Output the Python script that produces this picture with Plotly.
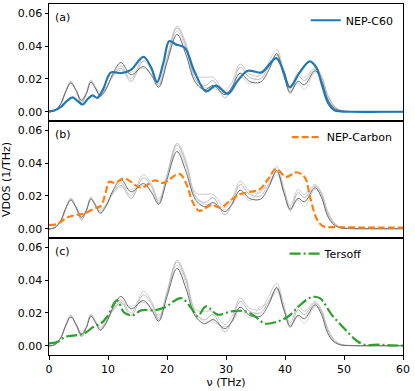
import plotly.graph_objects as go
from plotly.subplots import make_subplots

# ---------------- data ----------------
freq_ref = [0, 1, 2, 2.8, 3.7, 4.6, 5.5, 6.3, 7.1, 7.9, 8.7, 9.7, 10.8, 12.2, 13.9, 16.0,
            17.4, 18.6, 20.0, 21.7, 23.2, 24.8, 26.4, 27.8, 29.8, 31.0, 32.4, 34.0, 35.8,
            37.2, 38.6, 39.8, 40.9, 42.2, 43.3, 45.1, 46.2, 47.2, 48.3, 49.5, 51, 55, 60]

ref_dark = [0.0000, 0.0008, 0.0050, 0.0120, 0.0175, 0.0130, 0.0070, 0.0110, 0.0180, 0.0140,
            0.0095, 0.0140, 0.0230, 0.0300, 0.0225, 0.0275, 0.0220, 0.0150, 0.0300, 0.0470,
            0.0350, 0.0180, 0.0135, 0.0160, 0.0105, 0.0150, 0.0235, 0.0185, 0.0180, 0.0250,
            0.0355, 0.0220, 0.0120, 0.0185, 0.0165, 0.0250, 0.0190, 0.0080, 0.0025, 0.0006,
            0.0002, 0.0001, 0.0001]
ref_light1 = [0.0000, 0.0008, 0.0050, 0.0125, 0.0188, 0.0130, 0.0060, 0.0110, 0.0194, 0.0150,
              0.0110, 0.0150, 0.0220, 0.0280, 0.0200, 0.0330, 0.0270, 0.0170, 0.0330, 0.0520,
              0.0420, 0.0220, 0.0210, 0.0210, 0.0130, 0.0180, 0.0290, 0.0230, 0.0220, 0.0300,
              0.0380, 0.0250, 0.0140, 0.0240, 0.0210, 0.0270, 0.0220, 0.0110, 0.0040, 0.0010,
              0.0003, 0.0002, 0.0002]
ref_light2 = [0.0000, 0.0008, 0.0048, 0.0122, 0.0182, 0.0125, 0.0055, 0.0105, 0.0188, 0.0145,
              0.0100, 0.0145, 0.0215, 0.0265, 0.0185, 0.0310, 0.0255, 0.0160, 0.0320, 0.0510,
              0.0400, 0.0200, 0.0160, 0.0190, 0.0085, 0.0150, 0.0270, 0.0210, 0.0200, 0.0270,
              0.0345, 0.0230, 0.0110, 0.0220, 0.0190, 0.0260, 0.0210, 0.0100, 0.0035, 0.0008,
              0.0003, 0.0002, 0.0002]
ref_light3 = [0.0000, 0.0008, 0.0046, 0.0118, 0.0178, 0.0135, 0.0075, 0.0115, 0.0185, 0.0150,
              0.0120, 0.0150, 0.0210, 0.0255, 0.0240, 0.0265, 0.0230, 0.0185, 0.0310, 0.0490,
              0.0380, 0.0190, 0.0150, 0.0145, 0.0115, 0.0140, 0.0215, 0.0170, 0.0235, 0.0260,
              0.0330, 0.0220, 0.0130, 0.0175, 0.0135, 0.0240, 0.0200, 0.0090, 0.0030, 0.0007,
              0.0003, 0.0002, 0.0002]

freq_c60 = [0, 1, 2, 3, 4.0, 4.9, 5.7, 6.6, 7.4, 8.2, 9.2, 10.5, 12.2, 13.9, 16.0, 17.3, 18.3,
            19.4, 20.4, 21.5, 23.0, 24.6, 26.6, 28.3, 30.3, 32.0, 33.7, 36.0, 38.5, 39.7, 40.8,
            42.5, 44.2, 45.3, 46.3, 47.3, 48.3, 49.5, 52, 56, 60]
vdos_c60 = [0.0004, 0.0010, 0.0030, 0.0065, 0.0088, 0.0065, 0.0045, 0.0080, 0.0100, 0.0085,
            0.0140, 0.0240, 0.0235, 0.0255, 0.0335, 0.0270, 0.0180, 0.0300, 0.0430, 0.0410,
            0.0390, 0.0250, 0.0125, 0.0160, 0.0110, 0.0190, 0.0250, 0.0240, 0.0327, 0.0250,
            0.0150, 0.0240, 0.0307, 0.0270, 0.0160, 0.0055, 0.0012, 0.0003, 0.0001, 0.0001,
            0.0001]

freq_carbon = [0, 1.4, 3.1, 4.8, 6.0, 7.7, 8.8, 9.6, 10.2, 11.2, 12.8, 15.6, 17.9, 19.4,
               22.1, 23.2, 24.4, 25.5, 27.5, 29.2, 30.6, 32.3, 34.0, 35.7, 37.1, 38.5, 40.2,
               42.0, 43.4, 44.2, 45.4, 46.5, 48.8, 52, 56, 60]
vdos_carbon = [0.0024, 0.0030, 0.0070, 0.0086, 0.0094, 0.0124, 0.0140, 0.0220, 0.0286,
               0.0280, 0.0306, 0.0250, 0.0294, 0.0280, 0.0334, 0.0280, 0.0160, 0.0110,
               0.0144, 0.0130, 0.0170, 0.0210, 0.0224, 0.0240, 0.0300, 0.0364, 0.0316,
               0.0344, 0.0310, 0.0200, 0.0060, 0.0016, 0.0011, 0.0009, 0.0008, 0.0008]

freq_tersoff = [0, 1.4, 2.8, 4.8, 6.0, 7.7, 8.8, 9.9, 11.5, 12.8, 14.2, 15.6, 17.9, 19.6,
                22.4, 24.1, 25.2, 26.6, 28.6, 30.9, 33.2, 34.9, 36.6, 38.9, 40.6, 42.3, 44.5,
                45.9, 47.9, 50.2, 52.2, 53.6, 55.9, 58, 60]
vdos_tersoff = [0.0016, 0.0024, 0.0056, 0.0066, 0.0076, 0.0120, 0.0136, 0.0180, 0.0276,
                0.0200, 0.0186, 0.0216, 0.0216, 0.0234, 0.0290, 0.0230, 0.0180, 0.0240,
                0.0190, 0.0210, 0.0210, 0.0180, 0.0136, 0.0150, 0.0180, 0.0240, 0.0296,
                0.0290, 0.0190, 0.0100, 0.0030, 0.0006, 0.0008, 0.0004, 0.0002]

x_ticks = [0, 10, 20, 30, 40, 50, 60]
y_ticks = [0.00, 0.02, 0.04, 0.06]
panel_labels = ["(a)", "(b)", "(c)"]

# ---------------- figure ----------------
FONT = "DejaVu Sans"
fig = make_subplots(rows=3, cols=1, shared_xaxes=True, vertical_spacing=0)

ref_sets = [(ref_light1, "#c4c4c4"), (ref_light2, "#b0b0b0"), (ref_light3, "#d0d0d0"),
            (ref_dark, "#5a5a5a")]

models = [
    (freq_c60, vdos_c60, "NEP-C60", "#1f77b4", "solid", "legend"),
    (freq_carbon, vdos_carbon, "NEP-Carbon", "#ff7f0e", "7px,3px", "legend2"),
    (freq_tersoff, vdos_tersoff, "Tersoff", "#2ca02c", "11px,3px,2px,3px", "legend3"),
]

for i, (fx, fy, name, col, dash, leg) in enumerate(models):
    row = i + 1
    for ys, gc in ref_sets:
        fig.add_trace(go.Scatter(x=freq_ref, y=ys, mode="lines",
                                 line=dict(color=gc, width=0.9, shape="spline", smoothing=1.0),
                                 showlegend=False, hoverinfo="skip"), row=row, col=1)
    fig.add_trace(go.Scatter(x=fx, y=fy, mode="lines", name=name,
                             line=dict(color=col, width=2.2, dash=dash, shape="spline",
                                       smoothing=1.0),
                             legend=leg), row=row, col=1)

axis_common = dict(showline=True, mirror=True, linecolor="black", linewidth=1,
                   showgrid=False, zeroline=False, ticks="outside", ticklen=3.5,
                   tickwidth=1, tickcolor="black",
                   tickfont=dict(family=FONT, size=11, color="black"))

for r in range(1, 4):
    fig.update_yaxes(range=[-0.0055, 0.0655], tickvals=y_ticks, tickformat=".2f",
                     row=r, col=1, **axis_common)
    fig.update_xaxes(range=[0, 60], tickvals=x_ticks, row=r, col=1, **axis_common)
    if r < 3:
        fig.update_xaxes(showticklabels=False, ticks="", row=r, col=1)

fig.update_xaxes(title=dict(text="ν (THz)", font=dict(family=FONT, size=11, color="black"),
                            standoff=2), row=3, col=1)
fig.update_yaxes(title=dict(text="VDOS (1/THz)", font=dict(family=FONT, size=11, color="black"),
                            standoff=6), row=2, col=1)

yrefs = ["y domain", "y2 domain", "y3 domain"]
xrefs = ["x domain", "x2 domain", "x3 domain"]
for i, lab in enumerate(panel_labels):
    fig.add_annotation(text=lab, xref=xrefs[i], yref=yrefs[i], x=0.01, y=0.96,
                       xanchor="left", yanchor="top", showarrow=False,
                       font=dict(family=FONT, size=11, color="black"))

leg_common = dict(bgcolor="rgba(0,0,0,0)", borderwidth=0, xanchor="right", yanchor="top",
                  font=dict(family=FONT, size=11, color="black"), itemwidth=30,
                  tracegroupgap=0)
fig.update_layout(
    width=415, height=391,
    margin=dict(l=49, r=12, t=4, b=36),
    plot_bgcolor="white", paper_bgcolor="white",
    font=dict(family=FONT, size=11, color="black"),
    legend=dict(x=0.988, y=0.995, **leg_common),
    legend2=dict(x=0.985, y=0.662, **leg_common),
    legend3=dict(x=0.90, y=0.33, **leg_common),
)

fig.write_html("out.html", config={"displayModeBar": False},
               post_script="document.body.style.margin='0px';")
